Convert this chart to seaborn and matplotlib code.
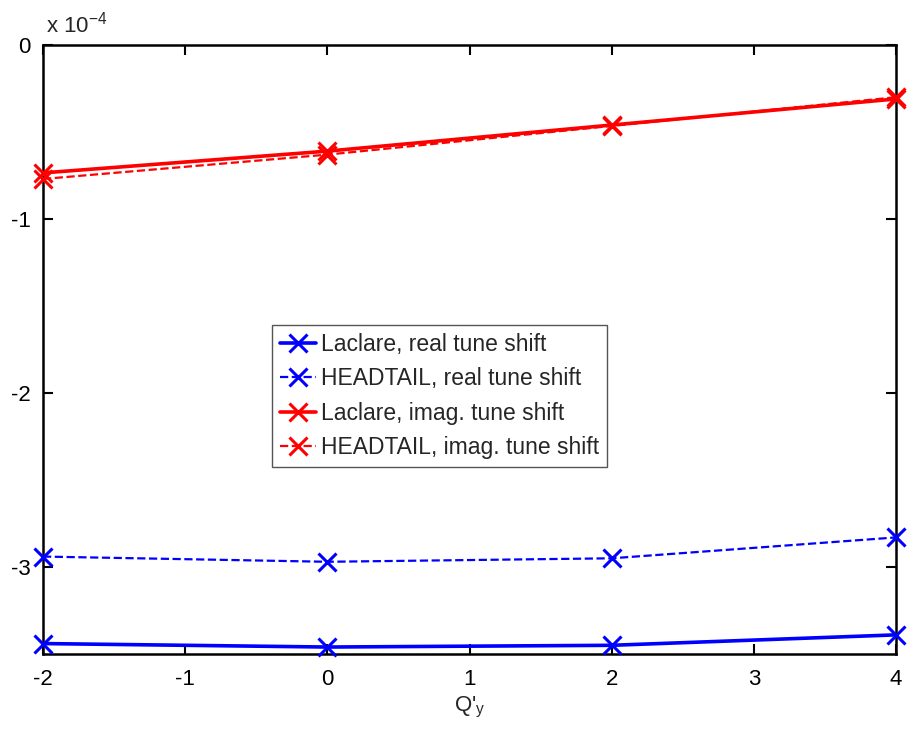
import matplotlib
matplotlib.use("Agg")
import matplotlib.pyplot as plt
import seaborn as sns
import pandas as pd

# Data (tune shifts in units of 1e-4)
q_prime = [-2, 0, 2, 4]
laclare_real = [-3.44, -3.46, -3.45, -3.39]
headtail_real = [-2.94, -2.97, -2.95, -2.83]
laclare_imag = [-0.735, -0.61, -0.46, -0.31]
headtail_imag = [-0.77, -0.63, -0.465, -0.30]
labels = ["Laclare, real tune shift", "HEADTAIL, real tune shift",
          "Laclare, imag. tune shift", "HEADTAIL, imag. tune shift"]
x_ticks = [-2, -1, 0, 1, 2, 3, 4]
y_ticks = [0, -1, -2, -3]

sns.set_style("white")
plt.rcParams["font.family"] = ["Liberation Sans", "DejaVu Sans"]

series = [laclare_real, headtail_real, laclare_imag, headtail_imag]
colors = ["#0000ff", "#0000ff", "#ff0000", "#ff0000"]
styles = ["-", "--", "-", "--"]
widths = [2.6, 1.6, 2.6, 1.6]

fig = plt.figure(figsize=(9.14, 7.36), dpi=100)
ax = fig.add_axes([43/914, 1 - 654/736, (896-43)/914, (654-45)/736])

for vals, lab, c, ls, lw in zip(series, labels, colors, styles, widths):
    df = pd.DataFrame({"Q": q_prime, "v": vals})
    sns.lineplot(data=df, x="Q", y="v", ax=ax, color=c, linestyle=ls,
                 linewidth=lw, marker="x", markersize=13, markeredgewidth=2.2,
                 markeredgecolor=c, markerfacecolor=c,
                 label=lab, clip_on=False, zorder=3)

ax.set_xlim(-2, 4)
ax.set_ylim(-3.5, 0)
ax.set_xticks(x_ticks)
ax.set_xticklabels([str(t) for t in x_ticks])
ax.set_yticks(y_ticks)
ax.set_yticklabels([str(t) for t in y_ticks])
ax.tick_params(axis="both", direction="in", length=7, width=1.5, labelsize=16,
               top=True, right=True, bottom=True, left=True, colors="black")
ax.tick_params(axis="x", pad=11)
ax.tick_params(axis="y", pad=9)
for s in ax.spines.values():
    s.set_visible(True)
    s.set_linewidth(1.8)
    s.set_color("black")
ax.set_ylabel("")
ax.set_xlabel("Q'$_\\mathregular{y}$", fontsize=16, labelpad=3)
ax.text(0.003, 1.012, "x 10$^{\\mathregular{-4}}$", transform=ax.transAxes,
        fontsize=16, ha="left", va="bottom")

leg = ax.legend(loc="upper left", bbox_to_anchor=((272-43)/(896-43), 1 - (325-45)/(654-45)),
                fontsize=16.5, frameon=True, fancybox=False, framealpha=1,
                edgecolor="#555555", handlelength=1.55, handletextpad=0.25,
                borderpad=0.35, labelspacing=0.5, borderaxespad=0)
leg.get_frame().set_linewidth(1.0)

fig.savefig("out.png", dpi=100)
